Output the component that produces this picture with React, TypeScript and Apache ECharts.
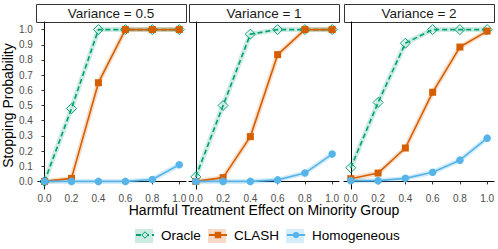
import React, { useEffect, useRef } from "react";
import * as echarts from "echarts";

const xValues = [0, 0.2, 0.4, 0.6, 0.8, 1.0];
const panels = ["Variance = 0.5", "Variance = 1", "Variance = 2"];
const oracle = [
  [0.0, 0.48, 1.0, 1.0, 1.0, 1.0],
  [0.03, 0.5, 0.97, 1.0, 1.0, 1.0],
  [0.09, 0.52, 0.91, 1.0, 1.0, 1.0],
];
const clash = [
  [0.0, 0.02, 0.65, 1.0, 1.0, 1.0],
  [0.0, 0.025, 0.295, 0.835, 1.0, 1.0],
  [0.018, 0.055, 0.22, 0.587, 0.885, 0.99],
];
const homogeneous = [
  [0.0, 0.0, 0.0, 0.0, 0.013, 0.11],
  [0.0, 0.0, 0.0, 0.01, 0.055, 0.18],
  [0.005, 0.005, 0.02, 0.06, 0.14, 0.285],
];
const xTicks = [0, 0.2, 0.4, 0.6, 0.8, 1.0];
const yTicks = [0, 0.1, 0.2, 0.3, 0.4, 0.5, 0.6, 0.7, 0.8, 0.9, 1.0];

const GREEN = "#009E73";
const ORANGE = "#D55E00";
const BLUE = "#56B4E9";
const FONT = "Liberation Sans";

const gridLefts = [36, 189, 344];
const gridWidth = 150;
const gridTop = 22;
const gridHeight = 167;

export default function App() {
  const ref = useRef<HTMLDivElement>(null);
  useEffect(() => {
    if (!ref.current) return;
    const chart = echarts.init(ref.current, undefined, { renderer: "svg" });
    const grids = gridLefts.map((l) => ({ left: l, top: gridTop, width: gridWidth, height: gridHeight }));
    const xAxes = gridLefts.map((_, i) => ({
      type: "value",
      gridIndex: i,
      min: -0.05,
      max: 1.05,
      splitLine: { show: false },
      axisLine: { show: true, lineStyle: { color: "#000", width: 1 } },
      axisTick: { show: true, customValues: xTicks, length: 3, lineStyle: { color: "#333" } },
      axisLabel: {
        customValues: xTicks,
        formatter: (v: number) => v.toFixed(1),
        color: "#4D4D4D",
        fontSize: 10,
        fontFamily: FONT,
        margin: 4,
      },
      name: i === 1 ? "Harmful Treatment Effect on Minority Group" : "",
      nameLocation: "middle",
      nameMoveOverlap: false,
      nameGap: 14,
      nameTextStyle: { color: "#000", fontSize: 14, fontFamily: FONT },
    }));
    const yAxes = gridLefts.map((_, i) => ({
      type: "value",
      gridIndex: i,
      min: -0.05,
      max: 1.05,
      splitLine: { show: false },
      axisLine: { show: true, lineStyle: { color: "#000", width: 1 } },
      axisTick: { show: i === 0, customValues: yTicks, length: 3, lineStyle: { color: "#333" } },
      axisLabel: {
        show: i === 0,
        customValues: yTicks,
        formatter: (v: number) => v.toFixed(1),
        color: "#4D4D4D",
        fontSize: 10,
        fontFamily: FONT,
        margin: 5,
      },
      name: i === 0 ? "Stopping Probability" : "",
      nameLocation: "middle",
      nameGap: 20,
      nameTextStyle: { color: "#000", fontSize: 14, fontFamily: FONT },
    }));

    const series: any[] = [];
    const defs = [
      { name: "Oracle", data: oracle, color: GREEN, band: "rgba(0,158,115,0.2)", symbol: "diamond", size: 10, dashed: true },
      { name: "CLASH", data: clash, color: ORANGE, band: "rgba(213,94,0,0.2)", symbol: "rect", size: 7, dashed: false },
      { name: "Homogeneous", data: homogeneous, color: BLUE, band: "rgba(86,180,233,0.25)", symbol: "circle", size: 7.5, dashed: false },
    ];
    defs.forEach((d, k) => {
      panels.forEach((_, i) => {
        const pts = xValues.map((x, j) => [x, d.data[i][j]]);
        series.push({
          name: d.name + " band",
          type: "line",
          xAxisIndex: i,
          yAxisIndex: i,
          data: pts,
          symbol: "none",
          silent: true,
          z: 1 + k,
          lineStyle: { color: d.band, width: 5 },
        });
        series.push({
          name: d.name,
          type: "line",
          xAxisIndex: i,
          yAxisIndex: i,
          data: pts,
          symbol: d.symbol,
          symbolSize: d.size,
          z: 5 + k,
          lineStyle: { color: d.color, width: 1.6, type: d.dashed ? [5, 3] : "solid" },
          itemStyle: d.dashed
            ? { color: "rgba(255,255,255,0)", borderColor: d.color, borderWidth: 1 }
            : { color: d.color, borderWidth: 0 },
        });
      });
    });

    const legendLefts = [135, 208, 286];
    const legends = defs.map((d, k) => ({
      data: [
        d.dashed
          ? { name: d.name, itemStyle: { color: "#CCEBE1", borderColor: GREEN, borderWidth: 1 } }
          : { name: d.name },
      ],
      left: legendLefts[k],
      top: 228,
      itemWidth: 18,
      itemHeight: 8,
      itemGap: 0,
      padding: 0,
      selectedMode: false,
      textStyle: { color: "#000", fontSize: 13.5, fontFamily: FONT, padding: [0, 0, 0, 2] },
    }));

    const graphic: any[] = [];
    panels.forEach((p, i) => {
      graphic.push({
        type: "rect",
        left: gridLefts[i],
        top: 4,
        shape: { x: 0, y: 0, width: gridWidth, height: 18 },
        style: { fill: "#fff", stroke: "#333", lineWidth: 1 },
        z: 0,
      });
      graphic.push({
        type: "text",
        x: gridLefts[i] + gridWidth / 2,
        y: 13,
        style: {
          text: p,
          fill: "#1a1a1a",
          fontSize: 13.5,
          fontFamily: FONT,
          align: "center",
          verticalAlign: "middle",
        },
        z: 1,
      });
    });
    const keyFills = ["#CCEBE1", "#F6D9C6", "#D5ECF9"];
    legendLefts.forEach((l, k) => {
      graphic.push({
        type: "rect",
        shape: { x: l, y: 229, width: 18, height: 14 },
        style: { fill: keyFills[k] },
        z: -1,
        zlevel: 0,
      });
    });

    chart.setOption({
      animation: false,
      backgroundColor: "#fff",
      grid: grids,
      xAxis: xAxes,
      yAxis: yAxes,
      series,
      legend: legends,
      graphic,
    });
    return () => chart.dispose();
  }, []);
  return <div ref={ref} style={{ width: 498, height: 249, position: "absolute", left: 0, top: 0 }} />;
}
